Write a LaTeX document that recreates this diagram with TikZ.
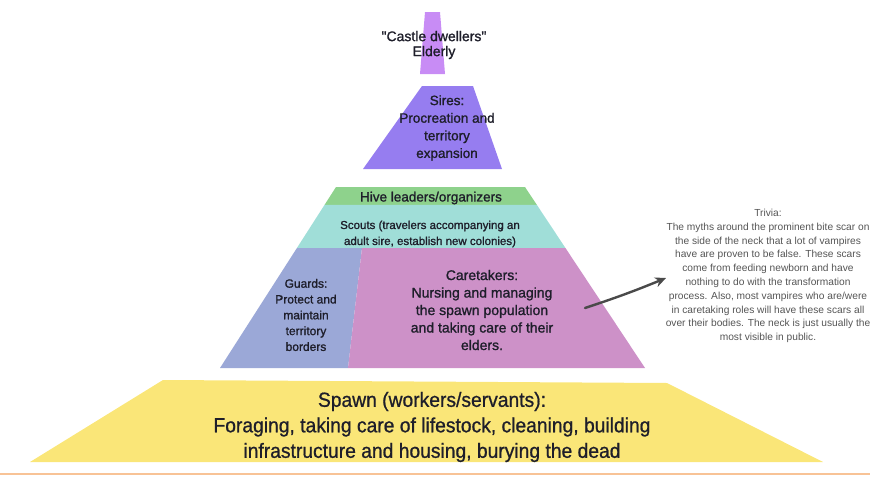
\documentclass[tikz,border=0pt]{standalone}
\usepackage{fontspec}
\setmainfont{Liberation Sans}
\newfontfamily\narrowfont{Liberation Sans}[FakeStretch=0.94,FakeBold=0.8]
\newfontfamily\labelfont{Liberation Sans}[FakeBold=1.2]
\usetikzlibrary{calc,arrows.meta}

\definecolor{elderlycol}{HTML}{C88CF5}
\definecolor{sirecol}{HTML}{967DF0}
\definecolor{hivecol}{HTML}{8ED28C}
\definecolor{scoutcol}{HTML}{A0DED8}
\definecolor{guardcol}{HTML}{9BA8D7}
\definecolor{carecol}{HTML}{CD91C8}
\definecolor{spawncol}{HTML}{FAE678}
\definecolor{linecol}{HTML}{F8C396}
\definecolor{labelcol}{HTML}{1E1E2A}
\definecolor{triviacol}{HTML}{555555}
\definecolor{arrowcol}{HTML}{4A4A4A}

\newcommand\setfs[2]{\fontsize{#1}{#2}\selectfont}

\tikzset{
  >=Stealth,
  tier label/.style={align=center,text=labelcol,inner sep=0pt},
  trivia arrow/.style={->,draw=arrowcol,line width=2.4pt,line cap=round,
    arrows={-Stealth[length=11pt,width=10pt]}}
}

\begin{document}
\begin{tikzpicture}[x=1pt,y=-1pt]
	\useasboundingbox (0,0) rectangle (870,477);

	%% corners of the middle block
	\coordinate (TL) at (336,187);
	\coordinate (TR) at (525,187);
	\coordinate (BL) at (220,368);
	\coordinate (BR) at (645,368);
	\coordinate (HL) at ($(TL)!0.099!(BL)$); % hive / scouts
	\coordinate (HR) at ($(TR)!0.099!(BR)$);
	\coordinate (SL) at ($(TL)!0.337!(BL)$); % scouts / guards
	\coordinate (SR) at ($(TR)!0.337!(BR)$);
	\coordinate (DT) at (362,248); % guards / caretakers
	\coordinate (DB) at (348,368);

	%% tiers
	\fill[elderlycol] (425,12) -- (440,12) -- (445,74) -- (420,74) -- cycle;
	\fill[sirecol] (422,86) -- (473,86) -- (502,169) -- (363,169) -- cycle;
	\fill[hivecol] (TL) -- (TR) -- (HR) -- (HL) -- cycle;
	\fill[scoutcol] (HL) -- (HR) -- (SR) -- (SL) -- cycle;
	\fill[guardcol] (SL) -- (DT) -- (DB) -- (BL) -- cycle;
	\fill[carecol] (DT) -- (SR) -- (BR) -- (DB) -- cycle;
	\fill[spawncol] (163,380) -- (667,383) -- (823,462) -- (30,462) -- cycle;
	\draw[linecol,line width=2.5pt] (0,474) -- (870,474);

	%% labels
	\node[tier label,font=\labelfont\setfs{14}{15}] (elderly) at (434,45)
		{\textquotedbl Castle dwellers\textquotedbl\\Elderly};
	\node[tier label,font=\labelfont\setfs{13.5}{17.6}] (sires) at (447,128)
		{Sires:\\Procreation and\\territory\\expansion};
	\node[tier label,font=\labelfont\setfs{13.5}{15}] (hive) at (431,198)
		{Hive leaders/organizers};
	\node[tier label,font=\labelfont\setfs{11.5}{16}] (scouts) at (430,234)
		{Scouts (travelers accompanying an\\adult sire, establish new colonies)};
	\node[tier label,font=\labelfont\setfs{12}{15.8}] (guards) at (306,315)
		{Guards:\\Protect and\\maintain\\territory\\borders};
	\node[tier label,font=\labelfont\setfs{14}{17.5}] (caretakers) at (482,310)
		{Caretakers:\\Nursing and managing\\the spawn population\\and taking care of their\\elders.};
	\node[tier label,font=\narrowfont\setfs{20.5}{25.5}] (spawn) at (432,427)
		{Spawn (workers/servants):\\Foraging, taking care of lifestock, cleaning, building\\infrastructure and housing, burying the dead};

	%% trivia note
	\node[align=center,text=triviacol,inner sep=0pt,font=\setfs{10.2}{13.8}] (trivia) at (768,276)
		{Trivia:\\The myths around the prominent bite scar on\\the side of the neck that a lot of vampires\\have are proven to be false. These scars\\come from feeding newborn and have\\nothing to do with the transformation\\process. Also, most vampires who are/were\\in caretaking roles will have these scars all\\over their bodies. The neck is just usually the\\most visible in public.};
	\coordinate (arrowstart) at (585,308);
	\coordinate (arrowtip) at (666,278);
	\draw[trivia arrow] (arrowstart) to[bend right=2] (arrowtip);
\end{tikzpicture}
\end{document}
